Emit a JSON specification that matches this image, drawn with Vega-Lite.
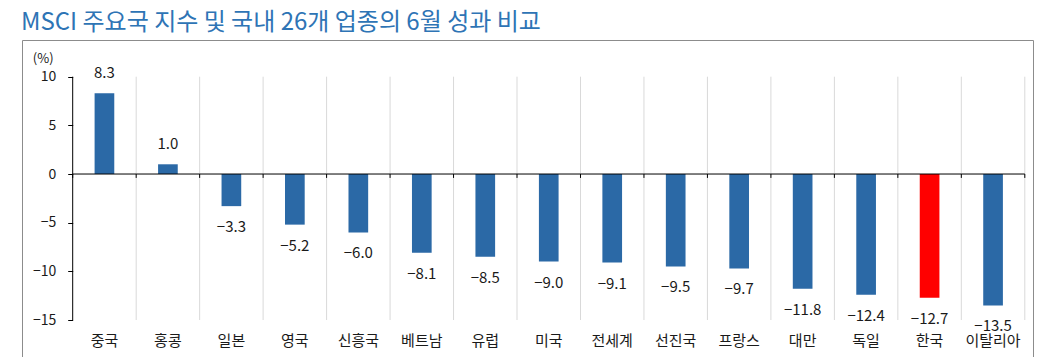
{
  "$schema": "https://vega.github.io/schema/vega-lite/v6.json",
  "autosize": {"type": "none"},
  "padding": {"left": 22, "top": 40, "right": 19, "bottom": 0},
  "width": 1011,
  "height": 317,
  "title": {
    "text": "MSCI 주요국 지수 및 국내 26개 업종의 6월 성과 비교",
    "anchor": "start",
    "frame": "group",
    "dx": -1,
    "fontSize": 24,
    "fontWeight": "normal",
    "color": "#2E74B5",
    "font": "Noto Sans CJK KR",
    "offset": 5
  },
  "config": {
    "view": {"stroke": "#8c8c8c", "strokeWidth": 1},
    "font": "Noto Sans CJK KR"
  },
  "data": {
    "values": [
      {"c": "중국", "v": 8.3},
      {"c": "홍콩", "v": 1.0},
      {"c": "일본", "v": -3.3},
      {"c": "영국", "v": -5.2},
      {"c": "신흥국", "v": -6.0},
      {"c": "베트남", "v": -8.1},
      {"c": "유럽", "v": -8.5},
      {"c": "미국", "v": -9.0},
      {"c": "전세계", "v": -9.1},
      {"c": "선진국", "v": -9.5},
      {"c": "프랑스", "v": -9.7},
      {"c": "대만", "v": -11.8},
      {"c": "독일", "v": -12.4},
      {"c": "한국", "v": -12.7},
      {"c": "이탈리아", "v": -13.5}
    ]
  },
  "encoding": {
    "x": {
      "field": "c",
      "type": "nominal",
      "sort": null,
      "scale": {"range": [50.7, 1002.8], "paddingInner": 0, "paddingOuter": 0},
      "axis": {
        "title": null,
        "orient": "bottom",
        "offset": -37,
        "domain": false,
        "ticks": false,
        "labelAngle": 0,
        "labelFontSize": 15,
        "labelColor": "#1a1a1a",
        "labelPadding": 13,
        "labelBaseline": "top"
      }
    }
  },
  "layer": [
    {
      "mark": {"type": "rule", "strokeWidth": 1},
      "encoding": {
        "x": {"field": "c", "type": "nominal", "sort": null, "bandPosition": 0},
        "y": {
          "datum": 10,
          "type": "quantitative",
          "scale": {"domain": [-18.8, 13.77], "nice": false, "zero": false},
          "axis": {
            "values": [-15, -10, -5, 0, 5, 10],
            "offset": -50.7,
            "domain": false,
            "grid": false,
            "ticks": true,
            "tickSize": 5,
            "tickColor": "#000000",
            "labelFontSize": 14,
            "labelColor": "#1a1a1a",
            "labelPadding": 12,
            "title": "(%)",
            "titleAngle": 0,
            "titleX": -30,
            "titleY": 18,
            "titleAlign": "center",
            "titleBaseline": "middle",
            "titleFontSize": 13,
            "titleFontWeight": "normal",
            "titleColor": "#1a1a1a"
          }
        },
        "y2": {"datum": -15},
        "color": {
          "condition": {"test": "datum.c === '중국'", "value": "#000000"},
          "value": "#d9d9d9"
        }
      }
    },
    {
      "transform": [{"filter": "datum.c === '이탈리아'"}],
      "mark": {"type": "rule", "strokeWidth": 1, "color": "#d9d9d9"},
      "encoding": {
        "x": {"field": "c", "type": "nominal", "sort": null, "bandPosition": 1},
        "y": {"datum": 10, "type": "quantitative"},
        "y2": {"datum": -15}
      }
    },
    {
      "mark": {"type": "bar", "width": {"band": 0.31}},
      "encoding": {
        "y": {"field": "v", "type": "quantitative"},
        "color": {
          "condition": {"test": "datum.c === '한국'", "value": "#FF0000"},
          "value": "#2B69A6"
        }
      }
    },
    {
      "mark": {"type": "rule", "color": "#000000", "strokeWidth": 1},
      "encoding": {
        "x": {"field": "c", "type": "nominal", "sort": null, "bandPosition": 0},
        "x2": {"field": "c", "bandPosition": 1},
        "y": {"datum": 0, "type": "quantitative"}
      }
    },
    {
      "mark": {"type": "rule", "color": "#000000", "strokeWidth": 1},
      "encoding": {
        "x": {"field": "c", "type": "nominal", "sort": null, "bandPosition": 0},
        "y": {"datum": 0, "type": "quantitative"},
        "y2": {"datum": -0.4}
      }
    },
    {
      "transform": [{"filter": "datum.c === '이탈리아'"}],
      "mark": {"type": "rule", "color": "#000000", "strokeWidth": 1},
      "encoding": {
        "x": {"field": "c", "type": "nominal", "sort": null, "bandPosition": 1},
        "y": {"datum": 0, "type": "quantitative"},
        "y2": {"datum": -0.4}
      }
    },
    {
      "transform": [{"filter": "datum.v >= 0"}],
      "mark": {"type": "text", "fontSize": 15, "color": "#1a1a1a", "baseline": "middle", "align": "center", "dy": -20},
      "encoding": {
        "y": {"field": "v", "type": "quantitative"},
        "text": {"field": "v", "type": "quantitative", "format": ".1f"}
      }
    },
    {
      "transform": [{"filter": "datum.v < 0"}],
      "mark": {"type": "text", "fontSize": 15, "color": "#1a1a1a", "baseline": "middle", "align": "center", "dy": 21},
      "encoding": {
        "y": {"field": "v", "type": "quantitative"},
        "text": {"field": "v", "type": "quantitative", "format": ".1f"}
      }
    }
  ]
}
